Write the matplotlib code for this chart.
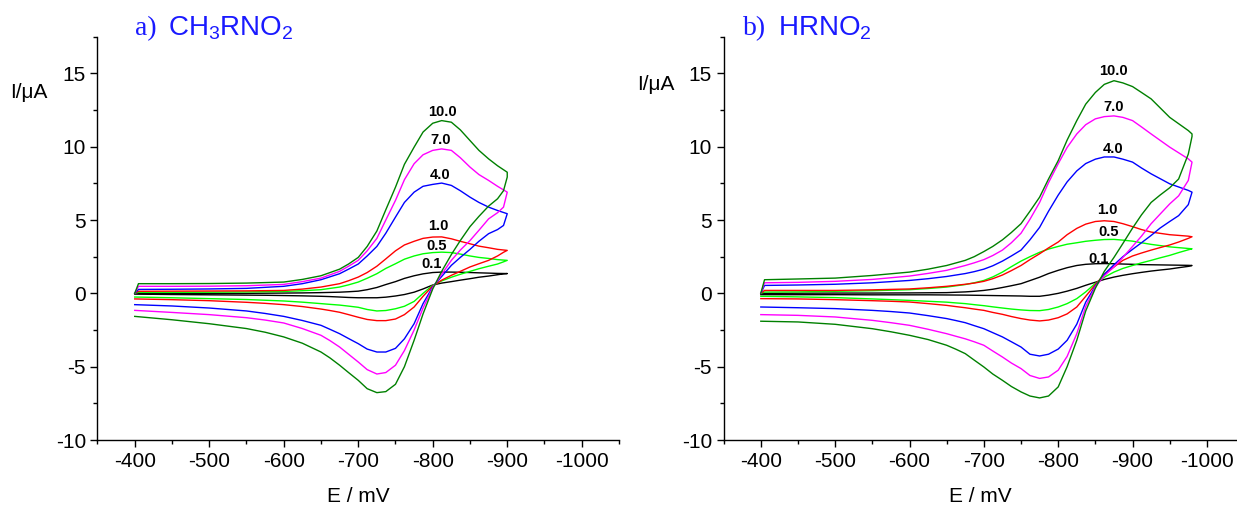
import matplotlib
matplotlib.use("Agg")
import matplotlib.pyplot as plt
from matplotlib.ticker import MultipleLocator

plt.rcParams['font.family'] = ['Liberation Sans', 'DejaVu Sans']
plt.rcParams['mathtext.default'] = 'regular'
plt.rcParams['axes.unicode_minus'] = False

labels = ["0.1", "0.5", "1.0", "4.0", "7.0", "10.0"]
colors = ["black", "#00ff00", "red", "blue", "magenta", "#008000"]

# ---- panel a) CH3RNO2 : forward scan -400 -> -900, reverse -900 -> -400
E_fwd_a = [-400, -405, -450, -500, -550, -600, -625, -650, -675, -687, -700, -712, -725, -737, -750, -762,
           -775, -787, -800, -812, -825, -837, -850, -862, -875, -887, -900]
a_fwd_01 = [0, 0.0, 0.0, 0.0, 0.0, 0.02, 0.03, 0.05, 0.08, 0.11, 0.15, 0.25, 0.4, 0.6, 0.8, 1.02,
            1.2, 1.33, 1.42, 1.45, 1.45, 1.44, 1.42, 1.4, 1.38, 1.36, 1.35]
a_fwd_05 = [0, 0.07, 0.07, 0.08, 0.1, 0.13, 0.18, 0.25, 0.43, 0.58, 0.77, 1.03, 1.34, 1.7, 2.02, 2.33,
            2.55, 2.7, 2.78, 2.81, 2.78, 2.68, 2.55, 2.45, 2.38, 2.3, 2.25]
a_fwd_1 = [0, 0.14, 0.15, 0.16, 0.17, 0.2, 0.29, 0.43, 0.66, 0.86, 1.11, 1.42, 1.85, 2.35, 2.9, 3.3,
           3.55, 3.75, 3.84, 3.85, 3.72, 3.55, 3.38, 3.22, 3.11, 3.0, 2.93]
a_fwd_4 = [0, 0.27, 0.28, 0.3, 0.34, 0.48, 0.66, 0.93, 1.34, 1.65, 2.0, 2.55, 3.2, 4.1, 5.2, 6.2,
           6.9, 7.3, 7.43, 7.52, 7.36, 7.0, 6.56, 6.2, 5.88, 5.65, 5.43]
a_fwd_7 = [0, 0.48, 0.48, 0.49, 0.52, 0.61, 0.8, 1.04, 1.5, 1.85, 2.25, 2.9, 3.75, 5.0, 6.34, 7.75,
           8.84, 9.45, 9.75, 9.85, 9.75, 9.25, 8.61, 8.1, 7.7, 7.3, 6.9]
a_fwd_10 = [0, 0.66, 0.66, 0.67, 0.7, 0.77, 0.95, 1.2, 1.65, 2.0, 2.45, 3.2, 4.25, 5.7, 7.24, 8.8,
            9.97, 11.0, 11.6, 11.78, 11.67, 11.15, 10.42, 9.75, 9.17, 8.7, 8.26]

E_rev_a = [-900, -895, -887, -875, -862, -850, -837, -825, -812, -800, -787, -775, -762, -750,
           -737, -725, -712, -700, -687, -675, -662, -650, -625, -600, -575, -550, -500, -450, -400]
a_rev_01 = [1.35, 1.33, 1.27, 1.18, 1.1, 1.0, 0.9, 0.8, 0.7, 0.57, 0.3, 0.08, -0.08, -0.18,
            -0.26, -0.3, -0.3, -0.3, -0.28, -0.25, -0.22, -0.2, -0.17, -0.15, -0.13, -0.12, -0.1, -0.08, -0.05]
a_rev_05 = [2.25, 2.15, 2.0, 1.85, 1.68, 1.5, 1.3, 1.1, 0.85, 0.55, 0.0, -0.55, -0.88, -1.05,
            -1.17, -1.2, -1.1, -0.95, -0.87, -0.8, -0.75, -0.7, -0.6, -0.52, -0.47, -0.42, -0.36, -0.3, -0.25]
a_rev_1 = [2.93, 2.8, 2.55, 2.25, 2.02, 1.8, 1.5, 1.23, 0.9, 0.5, -0.2, -0.93, -1.45, -1.75,
           -1.86, -1.86, -1.78, -1.63, -1.45, -1.29, -1.17, -1.07, -0.9, -0.77, -0.68, -0.61, -0.5, -0.43, -0.38]
a_rev_4 = [5.43, 4.63, 4.35, 4.07, 3.55, 3.0, 2.45, 1.91, 1.15, 0.45, -0.7, -2.07, -3.1, -3.75,
           -4.0, -4.0, -3.8, -3.43, -3.08, -2.75, -2.45, -2.18, -1.85, -1.57, -1.37, -1.2, -1.0, -0.86, -0.77]
a_rev_7 = [6.9, 5.88, 5.5, 5.08, 4.3, 3.6, 2.95, 2.25, 1.3, 0.4, -1.0, -2.5, -3.9, -4.9,
           -5.4, -5.5, -5.2, -4.68, -4.15, -3.66, -3.22, -2.86, -2.4, -2.02, -1.82, -1.66, -1.45, -1.3, -1.16]
a_rev_10 = [7.93, 7.0, 6.45, 5.95, 5.25, 4.55, 3.6, 2.65, 1.5, 0.3, -1.4, -3.2, -5.0, -6.2,
            -6.7, -6.77, -6.5, -5.93, -5.4, -4.9, -4.4, -4.0, -3.4, -2.97, -2.65, -2.4, -2.07, -1.8, -1.57]

# label anchors (E, I) for panel a
a_label_E = [-799, -805, -807, -810, -811, -813]
a_label_I = [1.98, 3.2, 4.56, 8.1, 10.47, 12.4]

# ---- panel b) HRNO2 : forward scan -400 -> -980, reverse -980 -> -400
E_fwd_b = [-400, -405, -450, -500, -550, -600, -625, -650, -675, -687, -700, -712, -725, -737,
           -750, -762, -775, -787, -800, -812, -825, -837, -850, -862, -875, -887, -900, -912,
           -925, -950, -975, -980]
b_fwd_01 = [0, 0.0, 0.01, 0.02, 0.02, 0.03, 0.04, 0.05, 0.1, 0.14, 0.2, 0.28, 0.4, 0.52,
            0.66, 0.87, 1.1, 1.35, 1.57, 1.75, 1.9, 1.98, 2.02, 2.03, 2.02, 2.0, 1.98, 1.96,
            1.95, 1.93, 1.91, 1.9]
b_fwd_05 = [0, 0.09, 0.1, 0.14, 0.18, 0.25, 0.33, 0.43, 0.6, 0.72, 0.88, 1.12, 1.45, 1.82,
            2.2, 2.5, 2.8, 3.02, 3.2, 3.35, 3.45, 3.55, 3.62, 3.67, 3.68, 3.63, 3.56, 3.45,
            3.34, 3.17, 3.06, 3.04]
b_fwd_1 = [0, 0.2, 0.2, 0.2, 0.24, 0.3, 0.38, 0.48, 0.62, 0.7, 0.82, 1.0, 1.25, 1.55,
           1.9, 2.3, 2.7, 3.1, 3.5, 4.0, 4.43, 4.72, 4.9, 4.95, 4.9, 4.75, 4.55, 4.35,
           4.18, 4.0, 3.9, 3.86]
b_fwd_4 = [0, 0.54, 0.57, 0.62, 0.72, 0.88, 1.0, 1.15, 1.35, 1.48, 1.65, 1.88, 2.2, 2.55,
           2.95, 3.65, 4.5, 5.6, 6.7, 7.6, 8.35, 8.85, 9.15, 9.3, 9.3, 9.15, 8.95, 8.55,
           8.15, 7.47, 7.02, 6.9]
b_fwd_7 = [0, 0.72, 0.75, 0.82, 0.95, 1.18, 1.36, 1.57, 1.9, 2.08, 2.3, 2.58, 2.95, 3.45,
           4.1, 5.05, 6.2, 7.55, 8.84, 9.95, 10.87, 11.5, 11.9, 12.05, 12.1, 12.0, 11.78, 11.35,
           10.87, 9.97, 9.17, 8.95]
b_fwd_10 = [0, 0.93, 0.98, 1.04, 1.22, 1.45, 1.65, 1.9, 2.25, 2.5, 2.85, 3.2, 3.65, 4.15,
            4.75, 5.6, 6.56, 7.8, 9.05, 10.45, 11.78, 12.9, 13.7, 14.25, 14.5, 14.35, 14.1, 13.7,
            13.26, 12.0, 11.1, 10.87]

E_rev_b = [-980, -975, -962, -950, -937, -925, -912, -900, -887, -875, -862, -850, -837, -825,
           -812, -800, -787, -775, -762, -750, -737, -725, -712, -700, -687, -675, -662, -650,
           -625, -600, -575, -550, -500, -450, -400]
b_rev_01 = [1.9, 1.84, 1.75, 1.66, 1.59, 1.52, 1.43, 1.34, 1.23, 1.11, 0.95, 0.76, 0.55, 0.34,
            0.15, 0.0, -0.12, -0.2, -0.2, -0.18, -0.17, -0.16, -0.15, -0.14, -0.13, -0.12, -0.115, -0.11,
            -0.1, -0.1, -0.1, -0.1, -0.09, -0.09, -0.09]
b_rev_05 = [3.04, 2.97, 2.78, 2.59, 2.42, 2.25, 2.08, 1.9, 1.7, 1.45, 1.1, 0.68, 0.1, -0.36,
            -0.7, -0.93, -1.1, -1.18, -1.17, -1.13, -1.07, -1.0, -0.92, -0.84, -0.77, -0.7, -0.65, -0.6,
            -0.54, -0.48, -0.43, -0.38, -0.29, -0.24, -0.2]
b_rev_1 = [3.86, 3.75, 3.5, 3.3, 3.12, 2.95, 2.75, 2.55, 2.25, 1.8, 1.3, 0.6, -0.2, -0.93,
           -1.4, -1.66, -1.82, -1.88, -1.82, -1.72, -1.58, -1.43, -1.3, -1.16, -1.07, -0.98, -0.9, -0.82,
           -0.7, -0.59, -0.54, -0.5, -0.43, -0.38, -0.36]
b_rev_4 = [6.9, 6.05, 5.3, 4.9, 4.45, 3.95, 3.45, 3.0, 2.5, 1.95, 1.3, 0.5, -0.6, -2.1,
           -3.2, -3.8, -4.15, -4.27, -4.15, -3.66, -3.3, -2.97, -2.68, -2.41, -2.2, -2.0, -1.85, -1.72,
           -1.52, -1.34, -1.24, -1.16, -1.04, -0.98, -0.93]
b_rev_7 = [8.95, 7.7, 6.65, 6.1, 5.4, 4.75, 3.9, 3.2, 2.45, 1.8, 1.2, 0.45, -0.9, -2.75,
           -4.3, -5.24, -5.7, -5.8, -5.6, -5.13, -4.75, -4.34, -3.93, -3.54, -3.3, -3.1, -2.92, -2.75,
           -2.45, -2.18, -2.0, -1.84, -1.61, -1.5, -1.45]
b_rev_10 = [10.7, 9.5, 7.8, 7.2, 6.7, 6.2, 5.35, 4.45, 3.4, 2.45, 1.5, 0.35, -1.2, -3.2,
            -5.0, -6.38, -7.0, -7.13, -7.0, -6.72, -6.35, -5.93, -5.5, -5.02, -4.55, -4.11, -3.8, -3.54,
            -3.15, -2.86, -2.62, -2.41, -2.11, -1.95, -1.9]

b_label_E = [-854, -868, -866, -874, -874, -874]
b_label_I = [2.36, 4.18, 5.7, 9.81, 12.74, 15.14]


def draw_panel(ax, E_fwd, fwd, E_rev, rev, lab_E, lab_I, xmax):
    for i in range(len(labels)):
        ax.plot(E_fwd + E_rev, fwd[i] + rev[i], color=colors[i], lw=1.0)
        ax.text(lab_E[i], lab_I[i], labels[i], fontsize=10.5, fontweight='bold',
                ha='center', va='center')
    ax.set_xlim(-350, xmax)
    ax.set_ylim(-10, 17.5)
    ax.xaxis.set_major_locator(MultipleLocator(100))
    ax.xaxis.set_minor_locator(MultipleLocator(50))
    ax.yaxis.set_major_locator(MultipleLocator(5))
    ax.yaxis.set_minor_locator(MultipleLocator(2.5))
    for s in ['top', 'right']:
        ax.spines[s].set_visible(False)
    for s in ['left', 'bottom']:
        ax.spines[s].set_linewidth(1.0)
    ax.tick_params(which='major', direction='out', length=4.8, width=1.0, labelsize=15)
    ax.tick_params(which='minor', direction='out', length=2.8, width=1.0)
    ax.set_xlabel('E / mV', fontsize=15, labelpad=12)


fig = plt.figure(figsize=(12.37, 5.12), dpi=100)
ax1 = fig.add_axes([0.0788, 0.1406, 0.4216, 0.7877])
ax2 = fig.add_axes([0.585, 0.1406, 0.4147, 0.7877])

draw_panel(ax1, E_fwd_a, [a_fwd_01, a_fwd_05, a_fwd_1, a_fwd_4, a_fwd_7, a_fwd_10],
           E_rev_a, [a_rev_01, a_rev_05, a_rev_1, a_rev_4, a_rev_7, a_rev_10],
           a_label_E, a_label_I, -1050)
draw_panel(ax2, E_fwd_b, [b_fwd_01, b_fwd_05, b_fwd_1, b_fwd_4, b_fwd_7, b_fwd_10],
           E_rev_b, [b_rev_01, b_rev_05, b_rev_1, b_rev_4, b_rev_7, b_rev_10],
           b_label_E, b_label_I, -1040)

# y labels
fig.text(10 / 1237, 1 - 93 / 512, 'I/\u03bcA', fontsize=15, ha='left', va='center')
fig.text(637 / 1237, 1 - 85 / 512, 'I/\u03bcA', fontsize=15, ha='left', va='center')

# panel titles
title_color = '#1a1aff'
fig.text(135 / 1237, 1 - 35 / 512, 'a)', fontsize=20, color=title_color,
         family='Liberation Serif', va='baseline')
fig.text(168 / 1237, 1 - 35 / 512, r'$\mathregular{CH_3RNO_2}$', fontsize=20,
         color=title_color, va='baseline')
fig.text(743 / 1237, 1 - 35 / 512, 'b)', fontsize=20, color=title_color,
         family='Liberation Serif', va='baseline')
fig.text(778 / 1237, 1 - 35 / 512, r'$\mathregular{HRNO_2}$', fontsize=20,
         color=title_color, va='baseline')

fig.savefig('out.png', dpi=100)
